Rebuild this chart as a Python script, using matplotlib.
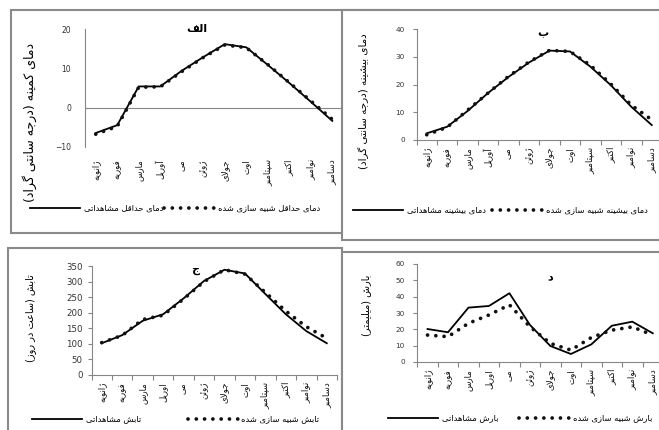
import numpy as np
import matplotlib
matplotlib.use('Agg')
import matplotlib.pyplot as plt
from matplotlib.patches import Rectangle

W, H = 659, 430

months_a = ['ژانویه', 'فوریه', 'مارس', 'آوریل', 'می', 'ژوئن', 'جولای', 'اوت', 'سپتامبر', 'اکتبر', 'نوامبر', 'دسامبر']
months_b = ['ژانویه', 'فوریه', 'مارس', 'اوریل', 'می', 'ژوئن', 'جولای', 'اوت', 'سپتامبر', 'اکتبر', 'نوامبر', 'دسامبر']

# min temperature (deg C)
tmin_obs = [-6.5, -4.5, 5.4, 5.4, 9.4, 12.9, 16.2, 15.4, 10.9, 6.3, 1.5, -3.4]
tmin_sim = [-6.8, -4.8, 5.2, 5.3, 9.2, 12.8, 16.0, 15.3, 11.0, 6.4, 1.7, -3.0]
# max temperature (deg C)
tmax_obs = [2.4, 4.8, 10.5, 17.0, 22.8, 28.0, 32.3, 32.0, 26.5, 19.8, 12.0, 5.4]
tmax_sim = [1.9, 4.6, 10.8, 17.0, 23.0, 28.2, 32.4, 32.0, 27.0, 20.2, 12.6, 7.3]
# sunshine (hours)
rad_obs = [102, 128, 174, 195, 246, 302, 338, 326, 260, 195, 141, 102]
rad_sim = [104, 127, 178, 192, 244, 300, 338, 324, 265, 205, 155, 118]
# precipitation (mm)
prec_obs = [20.2, 18.2, 33.3, 34.3, 42.1, 22.7, 9.8, 4.9, 10.8, 22.2, 24.7, 17.6]
prec_sim = [16.5, 15.5, 23.7, 28.8, 35.0, 21.6, 11.4, 7.3, 15.0, 19.5, 21.5, 16.5]

# matplotlib has no arabic shaping, so do it by hand with presentation forms
FORMS = {
    'ا': ('\uFE8D', '\uFE8E', None, None),
    'آ': ('\uFE81', '\uFE82', None, None),
    'ب': ('\uFE8F', '\uFE90', '\uFE91', '\uFE92'),
    'پ': ('\uFB56', '\uFB57', '\uFB58', '\uFB59'),
    'ت': ('\uFE95', '\uFE96', '\uFE97', '\uFE98'),
    'ج': ('\uFE9D', '\uFE9E', '\uFE9F', '\uFEA0'),
    'ح': ('\uFEA1', '\uFEA2', '\uFEA3', '\uFEA4'),
    'د': ('\uFEA9', '\uFEAA', None, None),
    'ر': ('\uFEAD', '\uFEAE', None, None),
    'ز': ('\uFEAF', '\uFEB0', None, None),
    'ژ': ('\uFB8A', '\uFB8B', None, None),
    'س': ('\uFEB1', '\uFEB2', '\uFEB3', '\uFEB4'),
    'ش': ('\uFEB5', '\uFEB6', '\uFEB7', '\uFEB8'),
    'ع': ('\uFEC9', '\uFECA', '\uFECB', '\uFECC'),
    'ف': ('\uFED1', '\uFED2', '\uFED3', '\uFED4'),
    'ق': ('\uFED5', '\uFED6', '\uFED7', '\uFED8'),
    'ک': ('\uFB8E', '\uFB8F', '\uFB90', '\uFB91'),
    'گ': ('\uFB92', '\uFB93', '\uFB94', '\uFB95'),
    'ل': ('\uFEDD', '\uFEDE', '\uFEDF', '\uFEE0'),
    'م': ('\uFEE1', '\uFEE2', '\uFEE3', '\uFEE4'),
    'ن': ('\uFEE5', '\uFEE6', '\uFEE7', '\uFEE8'),
    'ه': ('\uFEE9', '\uFEEA', '\uFEEB', '\uFEEC'),
    'و': ('\uFEED', '\uFEEE', None, None),
    'ی': ('\uFBFC', '\uFBFD', '\uFBFE', '\uFBFF'),
    'ئ': ('\uFE89', '\uFE8A', '\uFE8B', '\uFE8C'),
}
LAMALEF = {'ا': ('\uFEFB', '\uFEFC'), 'آ': ('\uFEF5', '\uFEF6')}


def fa(text):
    out = []
    n = len(text)

    def links_next(j):
        return j >= 0 and text[j] in FORMS and FORMS[text[j]][2] is not None

    i = 0
    while i < n:
        c = text[i]
        if c == 'ل' and i + 1 < n and text[i + 1] in LAMALEF:
            out.append(LAMALEF[text[i + 1]][1 if links_next(i - 1) else 0])
            i += 2
            continue
        if c in FORMS:
            iso, fin, ini, med = FORMS[c]
            p = links_next(i - 1)
            nx = i + 1 < n and text[i + 1] in FORMS and ini is not None
            if p and nx:
                out.append(med)
            elif p:
                out.append(fin)
            elif nx:
                out.append(ini)
            else:
                out.append(iso)
        else:
            out.append(c)
        i += 1
    return ''.join(reversed(out)).translate(str.maketrans('()', ')('))


plt.rcParams['font.family'] = ['DejaVu Sans']
fig = plt.figure(figsize=(W / 100, H / 100), dpi=100)

GRAY = '#868686'
FRAME = '#8a8a8a'


def fx(x):
    return x / W


def fy(y):
    return 1 - y / H


def frame(x0, y0, x1, y1, z):
    fig.add_artist(Rectangle((fx(x0), fy(y1)), fx(x1) - fx(x0), fy(y0) - fy(y1),
                             transform=fig.transFigure, facecolor='white',
                             edgecolor=FRAME, lw=1.5, zorder=z))


def panel(l, t, r, b, z):
    ax = fig.add_axes([fx(l), fy(b), fx(r) - fx(l), fy(t) - fy(b)], zorder=z)
    ax.patch.set_visible(False)
    for s in ['top', 'right']:
        ax.spines[s].set_visible(False)
    for s in ['left', 'bottom']:
        ax.spines[s].set_color(GRAY)
        ax.spines[s].set_linewidth(0.8)
    ax.set_xlim(0, 12)
    return ax


def draw(ax, obs, sim, labels, ymin, ymax, step, ticks=True, pad=5, ypad=4, ysize=5.5):
    x = np.arange(12) + 0.5
    l_obs, = ax.plot(x, obs, color='black', lw=1.3, solid_joinstyle='round', zorder=3)
    l_sim, = ax.plot(x, sim, color='#111111', lw=2.7, linestyle=(0, (0.01, 2.2)),
                     dash_capstyle='round', zorder=4)
    ax.set_ylim(ymin, ymax)
    ax.set_yticks(np.arange(ymin, ymax + 1, step))
    ax.set_xticks(x)
    ax.set_xticklabels([fa(m) for m in labels], rotation=90, fontsize=6.2, color='#111111')
    ax.tick_params(axis='x', length=0, pad=pad)
    ax.tick_params(axis='y', labelsize=ysize, labelcolor='#333333', color=GRAY,
                   length=3 if ticks else 0, width=0.8, pad=ypad)
    if ticks:
        ax.set_xticks(np.arange(13), minor=True)
        ax.tick_params(axis='x', which='minor', length=3.5, color=GRAY, width=0.8)
    return l_obs, l_sim


def legend(ax, handles, names, x, y, colsp):
    ax.legend(handles, [fa(n) for n in names], loc='center left',
              bbox_to_anchor=(fx(x), fy(y)), bbox_transform=fig.transFigure,
              ncol=2, frameon=False, fontsize=6.0, handlelength=6.0,
              handletextpad=0.45, columnspacing=colsp, borderpad=0,
              borderaxespad=0)


def ftext(x, y, s, z, **kw):
    fig.text(fx(x), fy(y), fa(s), ha='center', va='center', zorder=z, **kw)


# panel alef (top-left)
frame(11, 10, 400, 233, 1)
ax1 = panel(85, 29.3, 343, 146.7, 2)
ax1.spines['bottom'].set_visible(False)
ax1.axhline(0, color=GRAY, lw=0.8, zorder=1)
h = draw(ax1, tmin_obs, tmin_sim, months_a, -10, 20, 10, ticks=False, pad=9, ypad=10)
legend(ax1, h, ['دمای حداقل مشاهداتی', 'دمای حداقل شبیه سازی شده'], 30, 208, 0.1)
ftext(30, 122, 'دمای کمینه (درجه سانتی گراد)', 2.5, rotation=90, fontsize=9)
ftext(197, 29, 'الف', 2.5, fontsize=8, fontweight='bold')

# panel be (top-right)
frame(342, 10, 700, 240, 3)
ax2 = panel(416.5, 29.3, 662, 140, 4)
h = draw(ax2, tmax_obs, tmax_sim, months_a, 0, 40, 10, ypad=5.5, ysize=5.2)
legend(ax2, h, ['دمای بیشینه مشاهداتی', 'دمای بیشینه شبیه سازی شده'], 353, 210, 0.8)
ftext(364, 101, 'دمای بیشینه (درجه سانتی گراد)', 4.5, rotation=90, fontsize=7.5)
ftext(543, 33, 'ب', 4.5, fontsize=8, fontweight='bold')

# panel jim (bottom-left)
frame(8, 248, 342, 460, 5)
ax3 = panel(91.5, 266, 337, 375, 6)
h = draw(ax3, rad_obs, rad_sim, months_b, 0, 350, 50, ypad=3.5, ysize=6.2)
legend(ax3, h, ['تابش مشاهداتی', 'تابش شبیه سازی شده'], 32, 419, 5.6)
ftext(31, 318, 'تابش (ساعت در روز)', 6.5, rotation=90, fontsize=7)
ftext(195, 270, 'ج', 6.5, fontsize=8, fontweight='bold')

# panel dal (bottom-right)
frame(342, 252, 700, 460, 7)
ax4 = panel(417.3, 264, 663, 362, 8)
h = draw(ax4, prec_obs, prec_sim, months_b, 0, 60, 10, ypad=6, ysize=5.2)
legend(ax4, h, ['بارش مشاهداتی', 'بارش شبیه سازی شده'], 388, 418, 2.5)
ftext(366, 305, 'بارش (میلیمتر)', 8.5, rotation=90, fontsize=7)
ftext(550, 277, 'د', 8.5, fontsize=8, fontweight='bold')

fig.savefig('out.png', dpi=100)
